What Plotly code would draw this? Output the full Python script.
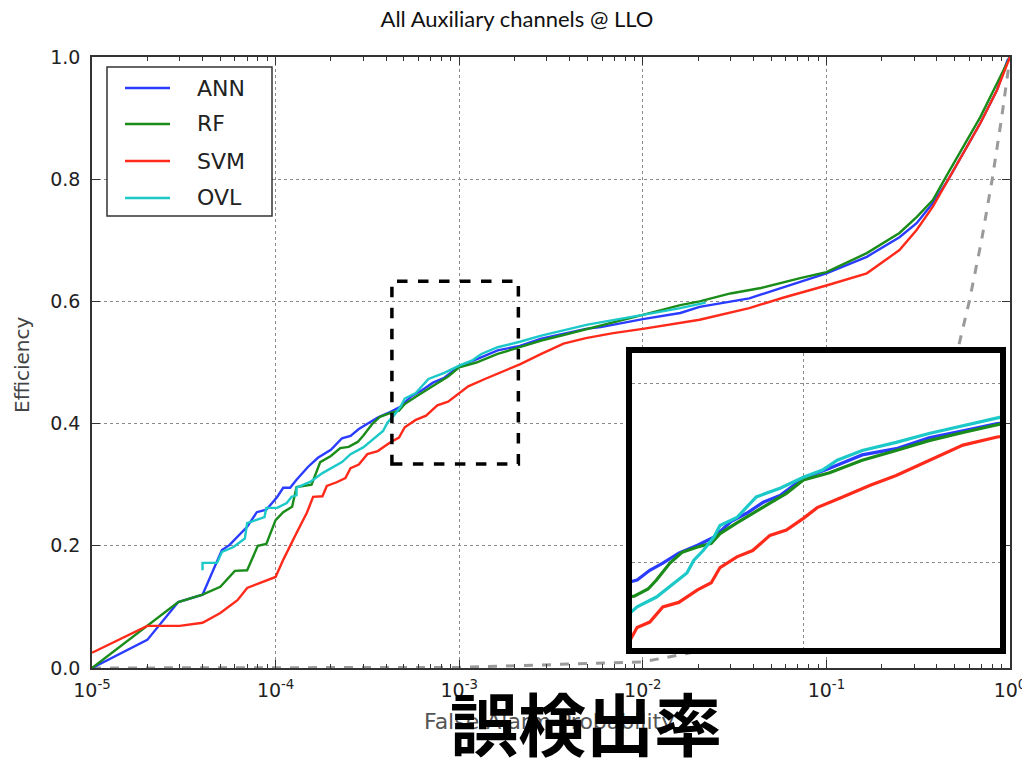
import plotly.graph_objects as go

# ---------------- data ----------------
series_names = ["ANN", "RF", "SVM", "OVL"]
series_colors = ["#2a3cff", "#1a8c1a", "#ff2a1a", "#1cc8c8"]

ann_x = [1e-5, 2e-5, 2.95e-5, 4e-5, 5.1e-5, 5.6e-5, 7.0e-5, 7.9e-5, 8.9e-5, 1.02e-4,
         1.1e-4, 1.2e-4, 1.3e-4, 1.5e-4, 1.7e-4, 2.0e-4, 2.3e-4, 2.56e-4, 2.84e-4, 3.16e-4,
         3.6e-4, 4.2e-4, 4.8e-4, 5.5e-4, 6.3e-4, 7.2e-4, 8.3e-4, 1.0e-3, 1.24e-3, 1.62e-3,
         2.14e-3, 2.8e-3, 3.7e-3, 4.9e-3, 5.9e-3, 1.0e-2, 1.6e-2, 2.04e-2, 3.8e-2, 7.2e-2,
         0.1, 0.166, 0.25, 0.31, 0.38, 0.46, 0.557, 0.69, 0.85, 0.97, 1.0]
ann_y = [0.0, 0.046, 0.108, 0.12, 0.193, 0.201, 0.231, 0.255, 0.259, 0.28,
         0.295, 0.295, 0.308, 0.329, 0.344, 0.357, 0.376, 0.38, 0.391, 0.399,
         0.41, 0.419, 0.428, 0.445, 0.455, 0.467, 0.475, 0.494, 0.505, 0.52,
         0.527, 0.539, 0.547, 0.555, 0.558, 0.571, 0.581, 0.591, 0.605, 0.632,
         0.646, 0.673, 0.705, 0.728, 0.761, 0.799, 0.843, 0.892, 0.946, 0.995, 1.0]

rf_x = [1e-5, 2e-5, 2.95e-5, 4e-5, 5e-5, 6e-5, 7e-5, 8e-5, 8.9e-5, 1e-4,
        1.1e-4, 1.23e-4, 1.3e-4, 1.57e-4, 1.75e-4, 2.0e-4, 2.25e-4, 2.5e-4, 2.8e-4, 3.0e-4,
        3.35e-4, 3.7e-4, 4.2e-4, 4.7e-4, 5.05e-4, 5.8e-4, 6.6e-4, 7.6e-4, 8.7e-4, 1e-3,
        1.24e-3, 1.62e-3, 2.14e-3, 2.8e-3, 3.7e-3, 4.9e-3, 6.9e-3, 1e-2, 1.6e-2, 2.04e-2,
        3.0e-2, 4.4e-2, 7.2e-2, 0.1, 0.166, 0.25, 0.31, 0.38, 0.46, 0.557, 0.69, 0.85, 1.0]
rf_y = [0.0, 0.07, 0.108, 0.12, 0.133, 0.159, 0.16, 0.2, 0.203, 0.242,
        0.255, 0.264, 0.296, 0.3, 0.337, 0.347, 0.36, 0.362, 0.37, 0.38,
        0.399, 0.411, 0.417, 0.421, 0.432, 0.444, 0.455, 0.466, 0.477, 0.492,
        0.5, 0.514, 0.525, 0.536, 0.545, 0.554, 0.566, 0.578, 0.594, 0.6,
        0.613, 0.622, 0.638, 0.648, 0.679, 0.712, 0.738, 0.766, 0.81, 0.853, 0.902, 0.957, 1.0]

svm_x = [1e-5, 2e-5, 3e-5, 4e-5, 5e-5, 6.2e-5, 7e-5, 8.2e-5, 1e-4, 1.1e-4,
         1.23e-4, 1.3e-4, 1.48e-4, 1.6e-4, 1.8e-4, 1.9e-4, 2.15e-4, 2.4e-4, 2.56e-4, 2.84e-4,
         3.16e-4, 3.6e-4, 4.2e-4, 4.7e-4, 5.05e-4, 5.8e-4, 6.6e-4, 7.6e-4, 8.7e-4, 1e-3,
         1.12e-3, 1.38e-3, 1.73e-3, 2.14e-3, 2.8e-3, 3.7e-3, 4.9e-3, 6.9e-3, 1e-2, 1.6e-2,
         2.04e-2, 3.8e-2, 5.8e-2, 0.1, 0.166, 0.25, 0.31, 0.38, 0.46, 0.557, 0.69, 0.85, 1.0]
svm_y = [0.025, 0.069, 0.069, 0.074, 0.09, 0.111, 0.131, 0.139, 0.149, 0.177,
         0.205, 0.221, 0.254, 0.28, 0.281, 0.298, 0.304, 0.311, 0.327, 0.333,
         0.35, 0.355, 0.369, 0.377, 0.394, 0.406, 0.413, 0.43, 0.436, 0.449,
         0.461, 0.473, 0.486, 0.497, 0.514, 0.531, 0.54, 0.548, 0.555, 0.565,
         0.57, 0.589, 0.606, 0.626, 0.646, 0.684, 0.717, 0.755, 0.799, 0.843, 0.892, 0.946, 1.0]

ovl_x = [4e-5, 4e-5, 4.8e-5, 5.1e-5, 5.9e-5, 6.8e-5, 7e-5, 7.9e-5, 8.7e-5, 8.9e-5,
         1.02e-4, 1.15e-4, 1.22e-4, 1.3e-4, 1.3e-4, 1.55e-4, 1.8e-4, 2.3e-4, 2.56e-4, 3.0e-4,
         3.4e-4, 3.85e-4, 4.07e-4, 4.4e-4, 4.8e-4, 5.05e-4, 5.8e-4, 6.8e-4, 8.3e-4, 1e-3,
         1.17e-3, 1.32e-3, 1.62e-3, 2.14e-3, 2.8e-3, 3.7e-3, 5.0e-3, 1e-2, 1.6e-2, 2.2e-2]
ovl_y = [0.16, 0.172, 0.172, 0.19, 0.198, 0.212, 0.237, 0.242, 0.247, 0.262,
         0.262, 0.27, 0.28, 0.283, 0.295, 0.305, 0.319, 0.337, 0.35, 0.361,
         0.374, 0.388, 0.402, 0.413, 0.428, 0.441, 0.45, 0.473, 0.483, 0.495,
         0.503, 0.514, 0.525, 0.534, 0.544, 0.553, 0.562, 0.578, 0.589, 0.598]

chance_x = [1e-5, 1e-4, 1e-3, 1e-2, 0.05, 0.1, 0.2, 0.3, 0.4, 0.5, 0.6, 0.7, 0.8, 0.9, 1.0]
chance_y = list(chance_x)

x_tickvals = [1e-5, 1e-4, 1e-3, 1e-2, 1e-1, 1.0]
x_ticktext = ["10<sup>-5</sup>", "10<sup>-4</sup>", "10<sup>-3</sup>",
              "10<sup>-2</sup>", "10<sup>-1</sup>", "10<sup>0</sup>"]
y_tickvals = [0.0, 0.2, 0.4, 0.6, 0.8, 1.0]

zoom_box = dict(x0=4.3e-4, x1=2.1e-3, y0=0.334, y1=0.633)

title_text = "All Auxiliary channels @ LLO"
xlabel = "False Alarm Probability"
ylabel = "Efficiency"
overlay_text = "誤検出率"

xs = [ann_x, rf_x, svm_x, ovl_x]
ys = [ann_y, rf_y, svm_y, ovl_y]

# ---------------- figure ----------------
OFF = 8                      # page body margin of the html page
W, H = 1030 - OFF, 766 - OFF
# plot area on the page: x 92..1010, y 57..668
ML, MT = 92 - OFF, 57 - OFF
MR = W - (1010 - OFF)
MB = H - (668 - OFF)
PW, PH = W - ML - MR, H - MT - MB


def px(xpage):
    return (xpage - OFF - ML) / PW


def py(ypage):
    return (H - MB - (ypage - OFF)) / PH


fig = go.Figure()

fig.add_trace(go.Scatter(x=chance_x, y=chance_y, mode="lines",
                         line=dict(color="#9a9a9a", width=3, dash="dash"),
                         showlegend=False, hoverinfo="skip"))

for name, color, x, y in zip(series_names, series_colors, xs, ys):
    fig.add_trace(go.Scatter(x=x, y=y, mode="lines", name=name,
                             line=dict(color=color, width=2.4), showlegend=False))

for name, color, x, y in zip(series_names, series_colors, xs, ys):
    fig.add_trace(go.Scatter(x=x, y=y, mode="lines", name=name,
                             line=dict(color=color, width=3.2), showlegend=False,
                             xaxis="x2", yaxis="y2"))

tick_font = dict(family="DejaVu Sans", size=19, color="#222")
grid_common = dict(showgrid=True, gridcolor="#8a8a8a", gridwidth=1, griddash="dot",
                   automargin=False, zeroline=False)

fig.update_layout(
    width=W, height=H,
    margin=dict(l=ML, r=MR, t=MT, b=MB, autoexpand=False),
    paper_bgcolor="white", plot_bgcolor="white",
    showlegend=False,
    xaxis=dict(type="log", range=[-5, 0], tickmode="array",
               tickvals=x_tickvals, ticktext=x_ticktext,
               ticks="inside", ticklen=8, tickwidth=1, tickcolor="#333",
               minor=dict(ticks="inside", ticklen=4, tickcolor="#333", dtick="D1", showgrid=False),
               showline=True, linecolor="#333", linewidth=1.5, mirror="allticks",
               tickfont=tick_font, ticklabelstandoff=4, **grid_common),
    yaxis=dict(range=[0, 1], tickmode="array", tickvals=y_tickvals, tickformat=".1f",
               ticks="inside", ticklen=8, tickwidth=1, tickcolor="#333",
               showline=True, linecolor="#333", linewidth=1.5, mirror="allticks",
               tickfont=tick_font, ticklabelstandoff=6, **grid_common),
    xaxis2=dict(type="log", range=[-3.61, -2.3], domain=[px(632), px(1000)], anchor="y2",
                tickmode="array", tickvals=[1e-3], showticklabels=False, ticks="",
                showline=True, linecolor="black", linewidth=6, mirror=True,
                **grid_common),
    yaxis2=dict(range=[0.304, 0.634], domain=[py(648), py(353)], anchor="x2",
                tickmode="array", tickvals=[0.4, 0.6], showticklabels=False, ticks="",
                showline=True, linecolor="black", linewidth=6, mirror=True,
                **grid_common),
    title=dict(text=title_text, x=(517 - OFF) / W, xanchor="center",
               y=1 - (19 - OFF) / H, yanchor="middle",
               pad=dict(t=0, b=0, l=0, r=0),
               font=dict(family="Lato", size=22, color="#111")),
)

# dashed zoom rectangle (data coordinates)
fig.add_shape(type="rect", xref="x", yref="y", **zoom_box,
              line=dict(color="black", width=3.5, dash="dash"), layer="above")

# manual legend
fig.add_shape(type="rect", xref="paper", yref="paper",
              x0=px(107), x1=px(272), y0=py(216), y1=py(67),
              line=dict(color="#333", width=1.5), fillcolor="white", layer="above")
legend_rows = [88, 124, 161, 198]
for name, color, yr in zip(series_names, series_colors, legend_rows):
    fig.add_shape(type="line", xref="paper", yref="paper",
                  x0=px(125), x1=px(170), y0=py(yr), y1=py(yr),
                  line=dict(color=color, width=2.6), layer="above")
    fig.add_annotation(text=name, xref="paper", yref="paper", x=px(195), y=py(yr),
                       xanchor="left", yanchor="middle", showarrow=False,
                       font=dict(family="DejaVu Sans", size=22, color="#222"))

# axis labels
fig.add_annotation(text=xlabel, xref="paper", yref="paper", x=px(549), y=py(721),
                   xanchor="center", yanchor="middle", showarrow=False,
                   font=dict(family="DejaVu Sans", size=22, color="#555"))
fig.add_annotation(text=ylabel, xref="paper", yref="paper", x=px(22), y=py(365),
                   xanchor="center", yanchor="middle", showarrow=False, textangle=-90,
                   font=dict(family="DejaVu Sans", size=20, color="#444"))

# big overlay caption
fig.add_annotation(text=overlay_text, xref="paper", yref="paper", x=px(586), y=py(721),
                   xanchor="center", yanchor="middle", showarrow=False,
                   font=dict(family="Noto Sans CJK JP", size=68, color="black", weight="bold"))

fig.write_html("out.html")
